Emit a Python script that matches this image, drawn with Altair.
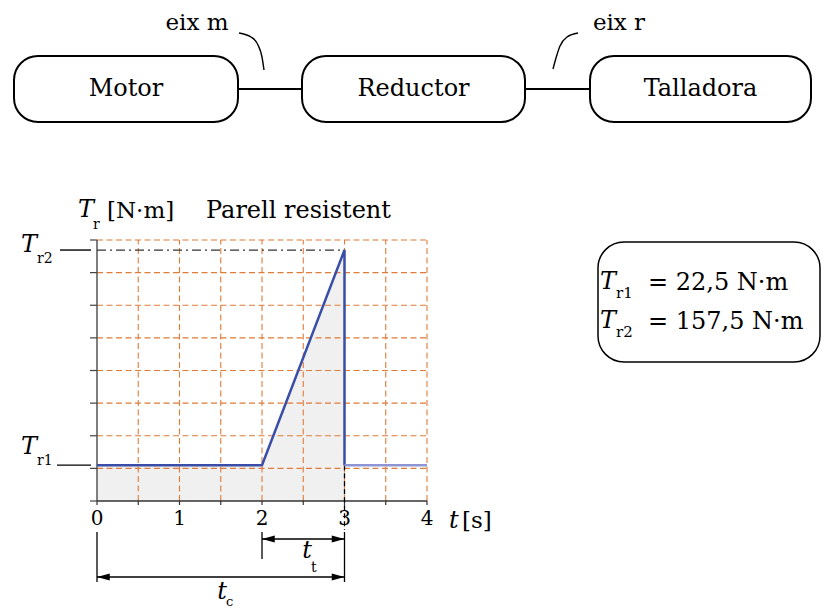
import altair as alt
import pandas as pd

# ---------------- data ----------------
t_main = [0, 2, 3, 3]                 # s
T_main = [22.5, 22.5, 157.5, 22.5]    # N·m
t_after = [3, 4]
T_after = [22.5, 22.5]
t_fill = [0, 2, 3]
T_fill = [22.5, 22.5, 157.5]
TR1 = 22.5
TR2 = 157.5
T_CYCLE = 3.0       # t_c
T_TOOTH = 1.0       # t_t
x_tick_values = [0, 0.5, 1, 1.5, 2, 2.5, 3, 3.5, 4]
x_tick_labels = ["0", "", "1", "", "2", "", "3", "", "4"]
N_GRID_Y = 8
Y_TOP = 163.8
blocks = ["Motor", "Reductor", "Talladora"]
shafts = ["eix m", "eix r"]
info_values = ["= 22,5 N·m", "= 157,5 N·m"]
info_subs = ["r1", "r2"]

# ---------------- layout (pixel anchors of the picture) ----------------
PX0, PXS = 97, 82.5          # x pixel of t=0, pixels per second
PY0, PH = 501, 261           # y pixel of T=0, plot height in px
FONT = "DejaVu Serif"
GRID = "#e07b39"

def X(px):
    return (px - PX0) / PXS

def Y(py):
    return (PY0 - py) * Y_TOP / PH

xs = alt.Scale(domain=[0, 4], nice=False, zero=False)
ys = alt.Scale(domain=[0, Y_TOP], nice=False, zero=False)

def ex(f):
    return alt.X(f, type="quantitative", scale=xs, axis=None)

def ey(f):
    return alt.Y(f, type="quantitative", scale=ys, axis=None)

def rules(x1, x2, y1, y2, color="black", width=1.3, dash=None):
    d = pd.DataFrame({"x": x1, "x2": x2, "y": y1, "y2": y2})
    kw = dict(color=color, strokeWidth=width)
    if dash:
        kw["strokeDash"] = dash
    return alt.Chart(d).mark_rule(**kw).encode(
        x=ex("x"), x2="x2", y=ey("y"), y2="y2")

def rule(x1, x2, y1, y2, **kw):
    return rules([x1], [x2], [y1], [y2], **kw)

def txt(s, px, py, size=24, italic=False, align="left"):
    d = pd.DataFrame({"x": [X(px)], "y": [Y(py)], "s": [s]})
    return alt.Chart(d).mark_text(
        font=FONT, fontSize=size, fontStyle="italic" if italic else "normal",
        align=align, baseline="middle", color="black").encode(
        x=ex("x"), y=ey("y"), text="s:N")

def rbox(px1, px2, py1, py2, radius, width=2):
    d = pd.DataFrame({"x": [X(px1)], "x2": [X(px2)], "y": [Y(py1)], "y2": [Y(py2)]})
    return alt.Chart(d).mark_rect(
        cornerRadius=radius, fill="white", stroke="black", strokeWidth=width).encode(
        x=ex("x"), x2="x2", y=ey("y"), y2="y2")

layers = []

# shaded area under the curve
fill_df = pd.DataFrame({"t": t_fill, "T": T_fill})
layers.append(alt.Chart(fill_df).mark_area(color="black", opacity=0.06)
              .encode(x=ex("t"), y=ey("T")))

# grid
grid_vals = [Y_TOP * i / N_GRID_Y for i in range(N_GRID_Y + 1)]
vx = x_tick_values[1:]
layers.append(rules(vx, vx, [0] * len(vx), [Y_TOP] * len(vx), color=GRID, width=1.1, dash=[6, 3.5]))
hy = grid_vals[1:]
layers.append(rules([0] * len(hy), [4] * len(hy), hy, hy, color=GRID, width=1.1, dash=[6, 3.5]))

# axes
layers.append(rule(0, 0, 0, Y_TOP, color="#555", width=1.5))
layers.append(rules([X(90)] * len(grid_vals), [0] * len(grid_vals), grid_vals, grid_vals,
                    color="#444", width=1.2))
layers.append(rule(0, 4, 0, 0, color="#333", width=1.5))
layers.append(rules(x_tick_values, x_tick_values, [0] * len(x_tick_values),
                    [Y(505)] * len(x_tick_values), color="#333", width=1.2))
lab_df = pd.DataFrame({"x": x_tick_values, "y": [Y(519)] * len(x_tick_values), "s": x_tick_labels})
layers.append(alt.Chart(lab_df).mark_text(font=FONT, fontSize=20, align="center",
                                          baseline="middle", color="black")
              .encode(x=ex("x"), y=ey("y"), text="s:N"))

# dash-dot at Tr2, dashed drop below t=3
layers.append(rule(0, T_CYCLE, TR2, TR2, color="#333", width=1.3, dash=[9, 4, 2, 4]))
layers.append(rule(T_CYCLE, T_CYCLE, TR1, Y(530), color="black", width=1.3, dash=[5, 3]))

# torque curve
layers.append(
    alt.Chart(pd.DataFrame({"t": t_main, "T": T_main, "o": range(len(t_main))}))
    .mark_line(color="#3a4ea8", strokeWidth=2.5)
    .encode(x=ex("t"), y=ey("T"), order="o:Q")
)
layers.append(
    alt.Chart(pd.DataFrame({"t": t_after, "T": T_after}))
    .mark_line(color="#8d95d4", strokeWidth=2.5)
    .encode(x=ex("t"), y=ey("T"))
)

# Tr level marks on the left
layers.append(rule(X(57), X(91), TR1, TR1, width=1.4))
layers.append(rule(X(60), X(91), TR2, TR2, width=1.4))
layers += [txt("T", 21, 447, 24, True), txt(info_subs[0], 37, 461, 14)]
layers += [txt("T", 21, 245, 24, True), txt(info_subs[1], 37, 259, 14)]

# titles
layers += [txt("T", 78, 210, 24, True), txt("r", 93, 225, 14),
           txt("[N·m]", 107, 211, 23), txt("Parell resistent", 206, 211, 24)]
layers += [txt("t", 449, 521, 24, True), txt("[s]", 462, 521, 23)]

# dimension lines
t_start_tooth = T_CYCLE - T_TOOTH
layers.append(rule(0, 0, Y(532), Y(582)))
layers.append(rule(t_start_tooth, t_start_tooth, Y(532), Y(559)))
layers.append(rule(T_CYCLE, T_CYCLE, Y(532), Y(582)))
layers.append(rule(t_start_tooth, T_CYCLE, Y(539), Y(539), width=1.5))
layers.append(rule(0, T_CYCLE, Y(577), Y(577), width=1.5))
RIGHT = "M0,0L-1,-0.27L-1,0.27Z"
LEFT = "M0,0L1,-0.27L1,0.27Z"
arrows = pd.DataFrame({
    "x": [t_start_tooth, T_CYCLE, 0, T_CYCLE],
    "y": [Y(539), Y(539), Y(577), Y(577)],
    "dir": ["L", "R", "L", "R"],
})
for d_, shp in (("L", LEFT), ("R", RIGHT)):
    layers.append(
        alt.Chart(arrows[arrows["dir"] == d_]).mark_point(
            shape=shp, size=650, filled=True, color="black", opacity=1, strokeWidth=0)
        .encode(x=ex("x"), y=ey("y"))
    )
layers += [txt("t", 307, 551, 24, True, "center"), txt("t", 311, 568, 14, False, "left")]
layers += [txt("t", 222, 592, 24, True, "center"), txt("c", 226, 602, 13, False, "left")]

# block diagram
box_px = [(14, 238), (302, 525), (590, 811)]
for (a, b), name in zip(box_px, blocks):
    layers.append(rbox(a, b, 56, 122, 24))
    layers.append(txt(name, (a + b) / 2, 89, 24, False, "center"))
layers.append(rule(X(238), X(302), Y(89), Y(89), width=2))
layers.append(rule(X(525), X(590), Y(89), Y(89), width=2))
layers.append(txt(shafts[0], 197, 23, 23, False, "center"))
layers.append(txt(shafts[1], 619, 23, 23, False, "center"))
lead_m = pd.DataFrame({"x": [X(p) for p in (239, 251, 258, 262, 264)],
                       "y": [Y(p) for p in (33, 37, 45, 57, 70)]})
lead_r = pd.DataFrame({"x": [X(p) for p in (578, 567, 560, 556, 553)],
                       "y": [Y(p) for p in (33, 37, 46, 58, 69)]})
for ld in (lead_m, lead_r):
    layers.append(alt.Chart(ld).mark_line(color="black", strokeWidth=1.4, interpolate="monotone")
                  .encode(x=ex("x"), y=ey("y")))

# info box
layers.append(rbox(598, 820, 242, 362, 26, 1.5))
for i, (sub, val) in enumerate(zip(info_subs, info_values)):
    yy = 282 + 39 * i
    layers += [txt("T", 600, yy, 24, True), txt(sub, 616, yy + 11, 15),
               txt(val, 648, yy + 1, 24)]

chart = alt.layer(*layers).properties(
    width=330, height=261,
    autosize=alt.AutoSizeParams(type="none"),
    padding={"left": 89, "top": 232, "right": 394, "bottom": 107},
).configure_view(stroke="transparent")

chart.save("out.html", embed_options={"renderer": "svg", "actions": False})
